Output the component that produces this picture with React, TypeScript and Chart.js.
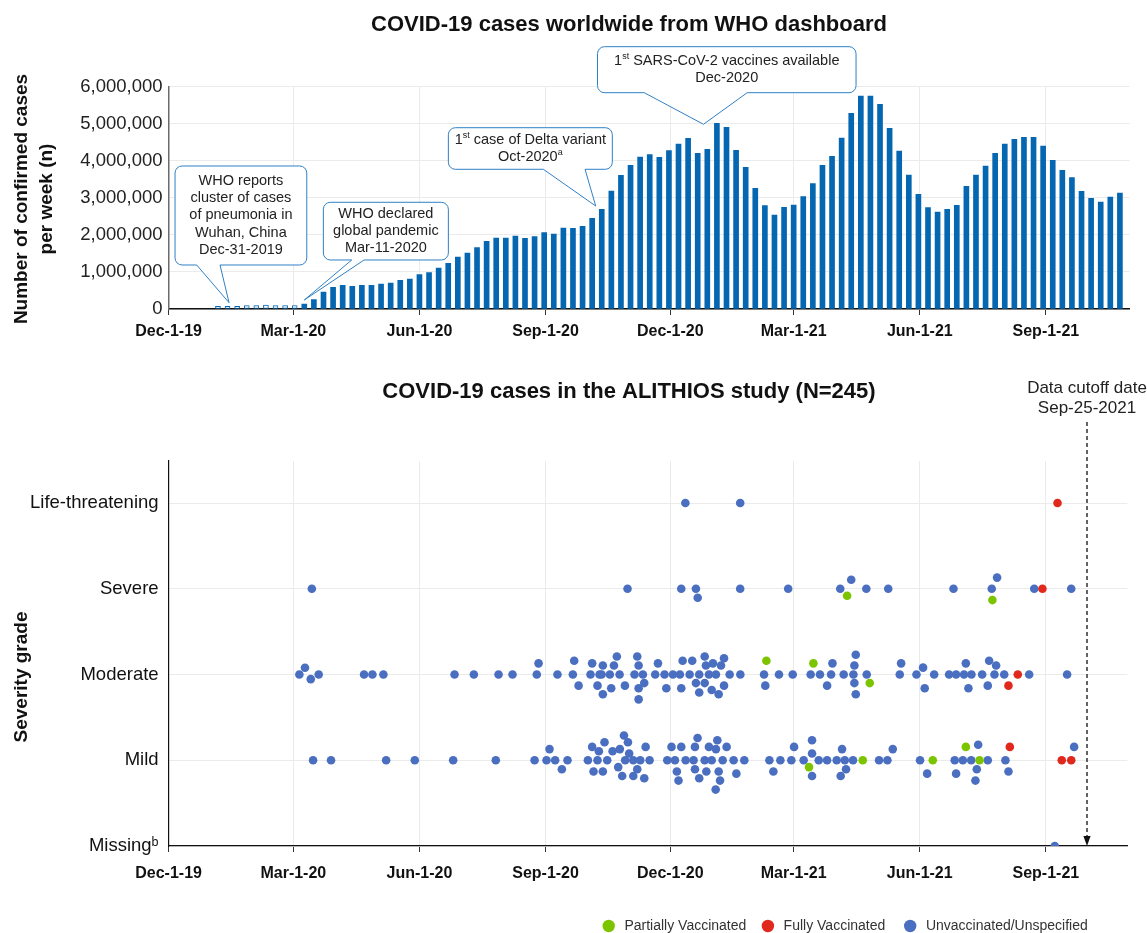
import React, { useEffect, useRef } from "react";
import { Chart, registerables } from "chart.js";

Chart.register(...registerables);

const FONT = '"Liberation Sans", Arial, Helvetica, sans-serif';
const W = 1147;
const TOP_H = 350;
const BOT_H = 583;

const BAR = "#0567b1";
const BLUE = "#4b6fc0";
const GREEN = "#7cc400";
const RED = "#e0281c";
const GRID = "#ebebeb";

// ---------- time axis ----------
const ORIGIN = "2019-12-01";
const dayOf = (s: string) =>
  (Date.parse(s + "T00:00:00Z") - Date.parse(ORIGIN + "T00:00:00Z")) / 86400000;

const tickDates = ["2019-12-01", "2020-03-01", "2020-06-01", "2020-09-01", "2020-12-01", "2021-03-01", "2021-06-01", "2021-09-01"];
const tickLabels = ["Dec-1-19", "Mar-1-20", "Jun-1-20", "Sep-1-20", "Dec-1-20", "Mar-1-21", "Jun-1-21", "Sep-1-21"];
const tickDays = tickDates.map(dayOf);
const TOP_X_MAX = 701;
const BOT_X_MAX = 699.4;

// ---------- top chart: weekly confirmed cases (WHO) ----------
const firstWeek = "2020-01-06";
const hollowWeeks = 9;
const weeklyCases = [
  70000, 70000, 70000, 90000, 90000, 105000, 90000, 90000, 90000,
  135000, 252000, 459000, 585000, 639000, 612000, 639000, 639000, 675000, 702000,
  774000, 810000, 927000, 981000, 1107000, 1233000, 1404000, 1511000, 1655000, 1826000,
  1916000, 1916000, 1970000, 1907000, 1952000, 2060000, 2024000, 2186000, 2177000, 2231000,
  2447000, 2690000, 3185000, 3608000, 3878000, 4103000, 4166000, 4094000, 4274000, 4453000,
  4606000, 4202000, 4310000, 5011000, 4903000, 4283000, 3824000, 3257000, 2789000, 2537000,
  2744000, 2807000, 3032000, 3383000, 3878000, 4121000, 4615000, 5281000, 5749000, 5749000,
  5524000, 4876000, 4265000, 3617000, 3095000, 2735000, 2618000, 2690000, 2798000, 3311000,
  3617000, 3860000, 4202000, 4453000, 4579000, 4633000, 4633000, 4400000, 4013000, 3743000,
  3545000, 3176000, 2987000, 2888000, 3023000, 3131000,
];
const yTicksTop = [0, 1000000, 2000000, 3000000, 4000000, 5000000, 6000000];

type Seg = [string, boolean?];
type Callout = { lines: Seg[][]; box: number[]; base: number[]; tip: number[] };
// box: [dayLeft, dayRight, casesBottom, casesTop]; base: pointer base days; tip: [day, cases]
const callouts: Callout[] = [
  {
    lines: [[["WHO reports"]], [["cluster of cases"]], [["of pneumonia in"]], [["Wuhan, China"]], [["Dec-31-2019"]]],
    box: [4.7, 100.8, 1188000, 3860000], base: [20.5, 37.5], tip: [44.1, 170000],
  },
  {
    lines: [[["WHO declared"]], [["global pandemic"]], [["Mar-11-2020"]]],
    box: [112.9, 204.1, 1323000, 2880000], base: [133.6, 142.6], tip: [99.0, 243000],
  },
  {
    lines: [[["1"], ["st", true], [" case of Delta variant"]], [["Oct-2020"], ["a", true]]],
    box: [204.1, 323.7, 3771000, 4893000], base: [273.4, 303.8], tip: [311.6, 2780000],
  },
  {
    lines: [[["1"], ["st", true], [" SARS-CoV-2 vaccines available"]], [["Dec-2020"]]],
    box: [312.9, 501.5, 5838000, 7080000], base: [347.0, 422.1], tip: [390.2, 4985000],
  },
];

// ---------- bottom chart: ALITHIOS cases ----------
const severityLabels = ["Missing\u1d47", "Mild", "Moderate", "Severe", "Life-threatening"];
const cutoffMarkerDay = 670;
const cutoffLabel = ["Data cutoff date", "Sep-25-2021"];

// [days since 1-Dec-2019, severity grade (0 Missing … 4 Life-threatening) incl. swarm offset]
const partiallyVaccinated: [number, number][] = [
  [495, 2.918], [601, 2.868],
  [436.1, 2.16], [470.4, 2.13], [511.5, 1.9],
  [467.2, 0.92], [506.4, 1], [557.5, 1], [581.6, 1.156], [591.6, 1],
];
const fullyVaccinated: [number, number][] = [
  [648.5, 4],
  [637.5, 3],
  [619.5, 2], [612.7, 1.87],
  [613.7, 1.156], [651.6, 1], [658.5, 1],
];
const unvaccinated: [number, number][] = [
  // Life-threatening
  [377, 4], [417, 4],
  // Severe
  [104.5, 3], [334.8, 3], [374, 3], [384.7, 3], [386, 2.895], [417, 3], [452, 3], [490, 3], [498, 3.105],
  [509, 3], [525, 3], [572.6, 3], [600.5, 3], [604.4, 3.13], [631.5, 3], [658.5, 3],
  // Moderate
  [95.4, 2], [99.5, 2.078], [103.7, 1.946], [109.5, 2],
  [142.6, 2], [148.7, 2], [156.7, 2],
  [208.6, 2], [222.7, 2], [240.7, 2], [250.9, 2],
  [268.6, 2], [269.9, 2.13], [283.7, 2],
  [294.9, 2], [295.9, 2.16], [299.1, 1.87],
  [307.8, 2], [309, 2.13], [312.9, 1.87], [314.4, 2], [315.9, 2], [316.8, 2.105], [316.8, 1.77],
  [321.9, 2], [322.9, 1.84], [324.9, 2.105], [327, 2.21], [329, 2], [332.9, 1.87],
  [339.9, 2], [341.9, 2.21], [342.9, 2.105], [342.9, 1.84], [342.9, 1.71], [346, 2], [347, 1.9],
  [355, 2], [357, 2.13], [361.8, 2], [363.1, 1.84], [367.9, 2],
  [373, 2], [374, 1.84], [375, 2.16], [380.1, 2], [382, 2.16], [384.7, 1.9], [387.1, 2], [387.1, 1.79],
  [391.1, 2.21], [392, 2.105], [391.1, 1.9], [394.2, 2], [397.1, 2.13], [399.3, 2], [403, 2.105],
  [405.2, 2.19], [405.2, 1.87], [396.2, 1.82], [401.3, 1.77], [409.3, 2], [417.1, 2],
  [434.4, 2], [435.3, 1.87], [445.3, 2], [455.3, 2], [468.4, 2], [475.2, 2], [480.4, 1.87], [483.3, 2],
  [484.3, 2.13], [492.5, 2], [499.6, 2], [500.3, 2.105], [501.3, 2.23], [500.3, 1.9], [501.3, 1.77], [509.3, 2],
  [533.4, 2], [534.4, 2.13], [545.6, 2], [550.4, 2.08], [551.6, 1.84], [558.5, 2], [569.4, 2], [574.5, 2],
  [580.3, 2], [581.6, 2.13], [583.5, 1.84], [585.7, 2], [593.5, 2], [598.6, 2.16], [603.7, 2.105],
  [597.6, 1.87], [602.5, 2], [609.6, 2], [627.8, 2], [655.5, 2],
  // Mild
  [105.4, 1], [118.5, 1], [158.7, 1], [179.6, 1], [207.6, 1], [238.7, 1], [267, 1], [275.7, 1],
  [277.9, 1.13], [282, 1], [286.9, 0.895], [291, 1],
  [305.9, 1], [309, 1.156], [310, 0.868], [312.9, 1], [313.9, 1.105], [316.8, 0.868], [318, 1.21],
  [320, 1], [323.9, 1.105], [328, 0.92], [329.2, 1.13], [330.9, 0.817], [332.2, 1.288], [333.1, 1],
  [335.1, 1.21], [336, 1.078], [339, 1], [339, 0.817], [341.9, 0.895], [344.1, 1], [347, 0.79],
  [348, 1.156], [350.9, 1],
  [363.8, 1], [366.9, 1.156], [369.4, 1], [370.8, 0.868], [372, 0.763], [374, 1.156], [377.2, 1],
  [383, 1], [384, 1.156], [384, 0.895], [385.9, 1.26], [387.1, 0.79],
  [391.1, 1], [392.3, 0.868], [394.2, 1.156], [396.2, 1], [399.3, 1.13], [400.3, 1.233], [401.3, 0.868],
  [402.3, 0.763], [399.1, 0.658], [404.2, 1], [407.1, 1.156], [412.2, 1], [414.2, 0.844], [420, 1],
  [438.3, 1], [441.2, 0.868], [446.3, 1], [454.3, 1], [456.3, 1.156], [463.3, 1], [469.4, 1.233],
  [469.4, 1.078], [469.4, 0.817], [474.3, 1], [480.4, 1], [487.4, 1], [491.3, 1.13], [493.3, 1],
  [494.2, 0.895], [490.3, 0.817], [499.3, 1],
  [518.3, 1], [524.4, 1], [528.3, 1.13], [548.2, 1], [553.4, 0.844], [573.5, 1], [574.5, 0.844],
  [579.4, 1], [585.5, 1], [589.6, 0.895], [588.6, 0.763], [590.6, 1.18], [597.6, 1], [610.5, 1],
  [612.7, 0.868], [660.6, 1.156],
  // Missing
  [646.5, 0],
];

const legendItems: [string, string][] = [
  ["Partially Vaccinated", GREEN],
  ["Fully Vaccinated", RED],
  ["Unvaccinated/Unspecified", BLUE],
];

// ---------- drawing helpers ----------
function drawRich(ctx: CanvasRenderingContext2D, segs: Seg[], cx: number, cy: number, size: number) {
  const big = `${size}px ${FONT}`;
  const small = `${(size * 0.62).toFixed(2)}px ${FONT}`;
  let total = 0;
  const ws = segs.map(([t, sup]) => {
    ctx.font = sup ? small : big;
    const w = ctx.measureText(t).width;
    total += w;
    return w;
  });
  let x = cx - total / 2;
  ctx.textAlign = "left";
  ctx.textBaseline = "middle";
  segs.forEach(([t, sup], i) => {
    ctx.font = sup ? small : big;
    ctx.fillText(t, x, sup ? cy - size * 0.33 : cy);
    x += ws[i];
  });
}

function drawCallout(ctx: CanvasRenderingContext2D, x1: number, y1: number, x2: number, y2: number,
  b1: number, b2: number, tx: number, ty: number) {
  const r = 7;
  ctx.beginPath();
  ctx.moveTo(x1 + r, y1);
  ctx.lineTo(x2 - r, y1);
  ctx.arcTo(x2, y1, x2, y1 + r, r);
  ctx.lineTo(x2, y2 - r);
  ctx.arcTo(x2, y2, x2 - r, y2, r);
  ctx.lineTo(b2, y2);
  ctx.lineTo(tx, ty);
  ctx.lineTo(b1, y2);
  ctx.lineTo(x1 + r, y2);
  ctx.arcTo(x1, y2, x1, y2 - r, r);
  ctx.lineTo(x1, y1 + r);
  ctx.arcTo(x1, y1, x1 + r, y1, r);
  ctx.closePath();
  ctx.fillStyle = "#fff";
  ctx.fill();
  ctx.strokeStyle = "#2f80c6";
  ctx.lineWidth = 1;
  ctx.stroke();
}

function verticalText(ctx: CanvasRenderingContext2D, text: string, x: number, y: number, size: number) {
  ctx.save();
  ctx.translate(x, y);
  ctx.rotate(-Math.PI / 2);
  ctx.font = `bold ${size}px ${FONT}`;
  ctx.fillStyle = "#111";
  ctx.textAlign = "center";
  ctx.textBaseline = "middle";
  ctx.fillText(text, 0, 0);
  ctx.restore();
}

const topDecor = {
  id: "topDecor",
  afterDatasetsDraw(chart: any) {
    const { ctx } = chart;
    const xs = chart.scales.x;
    const ys = chart.scales.y;
    ctx.save();
    for (const c of callouts) {
      const x1 = xs.getPixelForValue(c.box[0]);
      const x2 = xs.getPixelForValue(c.box[1]);
      const y1 = ys.getPixelForValue(c.box[3]);
      const y2 = ys.getPixelForValue(c.box[2]);
      drawCallout(ctx, x1, y1, x2, y2, xs.getPixelForValue(c.base[0]), xs.getPixelForValue(c.base[1]),
        xs.getPixelForValue(c.tip[0]), ys.getPixelForValue(c.tip[1]));
      const lh = 17.3;
      const cx = (x1 + x2) / 2;
      const cy = (y1 + y2) / 2;
      const n = c.lines.length;
      ctx.fillStyle = "#222";
      c.lines.forEach((segs, i) => {
        drawRich(ctx, segs, cx, cy + (i - (n - 1) / 2) * lh, 14.5);
      });
    }
    ctx.restore();
  },
  afterDraw(chart: any) {
    const { ctx } = chart;
    ctx.save();
    ctx.font = `bold 22px ${FONT}`;
    ctx.fillStyle = "#111";
    ctx.textAlign = "center";
    ctx.textBaseline = "alphabetic";
    ctx.fillText("COVID-19 cases worldwide from WHO dashboard", 629, 31);
    ctx.restore();
    verticalText(ctx, "Number of confirmed cases", 22, 199, 19);
    verticalText(ctx, "per week (n)", 47, 199, 19);
  },
};

const botDecor = {
  id: "botDecor",
  afterDraw(chart: any) {
    const { ctx } = chart;
    const xs = chart.scales.x;
    const area = chart.chartArea;
    ctx.save();
    ctx.font = `bold 22px ${FONT}`;
    ctx.fillStyle = "#111";
    ctx.textAlign = "center";
    ctx.textBaseline = "alphabetic";
    ctx.fillText("COVID-19 cases in the ALITHIOS study (N=245)", 629, 48);

    // cutoff
    const cx = xs.getPixelForValue(cutoffMarkerDay);
    ctx.font = `17px ${FONT}`;
    ctx.fillStyle = "#222";
    ctx.fillText(cutoffLabel[0], cx, 43);
    ctx.fillText(cutoffLabel[1], cx, 62.5);
    ctx.strokeStyle = "#111";
    ctx.lineWidth = 1.3;
    ctx.setLineDash([4, 3]);
    ctx.beginPath();
    ctx.moveTo(cx, 72);
    ctx.lineTo(cx, area.bottom - 9);
    ctx.stroke();
    ctx.setLineDash([]);
    ctx.fillStyle = "#111";
    ctx.beginPath();
    ctx.moveTo(cx - 3.6, area.bottom - 10);
    ctx.lineTo(cx + 3.6, area.bottom - 10);
    ctx.lineTo(cx, area.bottom);
    ctx.closePath();
    ctx.fill();

    // legend
    const lx = [608.7, 767.9, 910.2];
    const ly = 576;
    ctx.font = `14px ${FONT}`;
    ctx.textAlign = "left";
    ctx.textBaseline = "middle";
    legendItems.forEach(([label, color], i) => {
      ctx.fillStyle = color;
      ctx.beginPath();
      ctx.arc(lx[i], ly, 6.2, 0, Math.PI * 2);
      ctx.fill();
      ctx.fillStyle = "#333";
      ctx.fillText(label, lx[i] + 15.7, ly + 0.5);
    });
    ctx.restore();
    verticalText(ctx, "Severity grade", 22, 327, 19);
  },
};

const xTickFont = { family: FONT, size: 16, weight: "bold" as const };

export default function App() {
  const topRef = useRef<HTMLCanvasElement>(null);
  const botRef = useRef<HTMLCanvasElement>(null);

  useEffect(() => {
    const start = dayOf(firstWeek);
    const barData = weeklyCases.map((v, i) => ({ x: start + 7 * i, y: v }));

    const top = new Chart(topRef.current as HTMLCanvasElement, {
      type: "bar",
      data: {
        datasets: [
          {
            data: barData as any,
            backgroundColor: weeklyCases.map((_, i) => (i < hollowWeeks ? "#fff" : BAR)),
            borderColor: BAR,
            borderWidth: weeklyCases.map((_, i) => (i < hollowWeeks ? 1 : 0)),
            borderSkipped: false,
            barThickness: 5,
          } as any,
        ],
      },
      options: {
        animation: false,
        responsive: false,
        devicePixelRatio: 1,
        events: [],
        layout: { padding: { top: 86.7, right: 17.5, left: 0, bottom: 0 } },
        plugins: { legend: { display: false }, tooltip: { enabled: false }, title: { display: false } },
        scales: {
          x: {
            type: "linear",
            min: 0,
            max: TOP_X_MAX,
            offset: false,
            afterBuildTicks: (s: any) => { s.ticks = tickDays.map((v) => ({ value: v })); },
            afterFit: (s: any) => { s.height = TOP_H - 309; },
            ticks: {
              autoSkip: false, maxRotation: 0, minRotation: 0,
              callback: (_v: any, i: number) => tickLabels[i],
              font: xTickFont, color: "#111", padding: 7,
            },
            grid: { color: GRID, lineWidth: 1, tickLength: 6, tickColor: "#333", offset: false, drawTicks: true },
            border: { color: "#111", width: 1.5 },
          } as any,
          y: {
            type: "linear",
            min: 0,
            max: 6000000,
            afterBuildTicks: (s: any) => { s.ticks = yTicksTop.map((v) => ({ value: v })); },
            afterFit: (s: any) => { s.width = 168.6; },
            ticks: {
              callback: (v: any) => Number(v).toLocaleString("en-US"),
              font: { family: FONT, size: 18.5 }, color: "#222", padding: 6,
            },
            grid: { color: GRID, drawTicks: false },
            border: { color: "#6b6b6b", width: 1.5 },
          } as any,
        },
      },
      plugins: [topDecor as any],
    });

    const toPts = (a: [number, number][]) => a.map(([x, y]) => ({ x, y }));
    const bottom = new Chart(botRef.current as HTMLCanvasElement, {
      type: "scatter",
      data: {
        datasets: [
          { label: "Partially Vaccinated", data: toPts(partiallyVaccinated), backgroundColor: GREEN, pointRadius: 4.3, borderWidth: 0, order: 1 },
          { label: "Fully Vaccinated", data: toPts(fullyVaccinated), backgroundColor: RED, pointRadius: 4.3, borderWidth: 0, order: 2 },
          { label: "Unvaccinated/Unspecified", data: toPts(unvaccinated), backgroundColor: BLUE, pointRadius: 4.3, borderWidth: 0, order: 3 },
        ] as any,
      },
      options: {
        animation: false,
        responsive: false,
        devicePixelRatio: 1,
        events: [],
        layout: { padding: { top: 111, right: W - 1127.3, left: 0, bottom: 0 } },
        plugins: { legend: { display: false }, tooltip: { enabled: false }, title: { display: false } },
        scales: {
          x: {
            type: "linear",
            min: 0,
            max: BOT_X_MAX,
            afterBuildTicks: (s: any) => { s.ticks = tickDays.map((v) => ({ value: v })); },
            afterFit: (s: any) => { s.height = BOT_H - 496; },
            ticks: {
              autoSkip: false, maxRotation: 0, minRotation: 0,
              callback: (_v: any, i: number) => tickLabels[i],
              font: xTickFont, color: "#111", padding: 12,
            },
            grid: { color: GRID, lineWidth: 1, tickLength: 6, tickColor: "#333", drawTicks: true },
            border: { color: "#111", width: 1.3 },
          } as any,
          y: {
            type: "linear",
            min: 0,
            max: 4.49,
            afterBuildTicks: (s: any) => { s.ticks = [0, 1, 2, 3, 4].map((v) => ({ value: v })); },
            afterFit: (s: any) => { s.width = 168.6; },
            ticks: {
              callback: (v: any) => severityLabels[Math.round(Number(v))],
              font: { family: FONT, size: 18.5 }, color: "#111", padding: 10,
            },
            grid: { color: GRID, drawTicks: false },
            border: { color: "#111", width: 1.2 },
          } as any,
        },
      },
      plugins: [botDecor as any],
    });

    return () => {
      top.destroy();
      bottom.destroy();
    };
  }, []);

  return (
    <div style={{ position: "absolute", left: 0, top: 0, width: W, height: 933, background: "#fff" }}>
      <canvas ref={topRef} width={W} height={TOP_H}
        style={{ position: "absolute", left: 0, top: 0, width: W, height: TOP_H, display: "block" }} />
      <canvas ref={botRef} width={W} height={BOT_H}
        style={{ position: "absolute", left: 0, top: TOP_H, width: W, height: BOT_H, display: "block" }} />
    </div>
  );
}
